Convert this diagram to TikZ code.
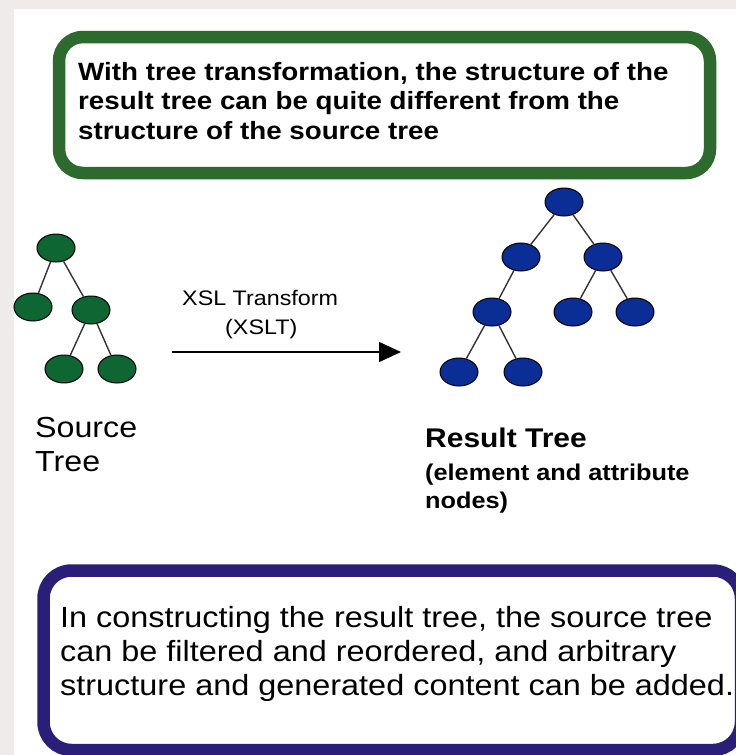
\documentclass[tikz,border=0pt]{standalone}
\usepackage{fontspec}
\setmainfont{Liberation Sans}[FakeStretch=1.11]
\usetikzlibrary{arrows.meta,shapes.geometric}
\definecolor{bgstrip}{HTML}{EFEBEA}
\definecolor{boxgreen}{HTML}{2D6A2D}
\definecolor{boxnavy}{HTML}{2A1E78}
\definecolor{treegreen}{HTML}{0E6633}
\definecolor{treeblue}{HTML}{0A2E96}
\definecolor{edgegray}{HTML}{333333}
\begin{document}
\begin{tikzpicture}[x=1pt,y=-1pt,
  tnode/.style={ellipse,draw=black,line width=1pt,minimum width=38pt,minimum height=28pt,inner sep=0pt},
  gnode/.style={tnode,fill=treegreen},
  bnode/.style={tnode,fill=treeblue},
  edge/.style={draw=edgegray,line width=1.4pt},
  txt/.style={anchor=base west,inner sep=0pt,text=black},
  topfont/.style={font=\fontsize{25}{29}\selectfont\bfseries},
  botfont/.style={font=\fontsize{29.2}{34}\selectfont},
  frame/.style={line width=12.5pt,rounded corners=24pt}]
\useasboundingbox (0,0) rectangle (736,755);
\clip (0,0) rectangle (736,755);
\fill[bgstrip] (0,0) rectangle (736,755);
\fill[white] (14,9) rectangle (736,755);
% top box
\draw[frame,draw=boxgreen,fill=white] (59,37) rectangle (710,173);
\node[txt,topfont] (t1) at (78,80) {With tree transformation, the structure of the};
\node[txt,topfont] (t2) at (78,109) {result tree can be quite different from the};
\node[txt,topfont] (t3) at (78,139) {structure of the source tree};
% bottom box
\draw[frame,draw=boxnavy,fill=white,rounded corners=28pt] (43.5,570.5) rectangle (741,750);
\node[txt,botfont] (b1) at (60,627) {In constructing the result tree, the source tree};
\node[txt,botfont] (b2) at (60,661) {can be filtered and reordered, and arbitrary};
\node[txt,botfont] (b3) at (60,695) {structure and generated content can be added.};
% source tree
\node[gnode] (s0) at (56,248) {};
\node[gnode] (s1) at (33,307) {};
\node[gnode] (s2) at (91,310) {};
\node[gnode] (s3) at (64,369) {};
\node[gnode] (s4) at (117,369) {};
\draw[edge] (s0) -- (s1);
\draw[edge] (s0) -- (s2);
\draw[edge] (s2) -- (s3);
\draw[edge] (s2) -- (s4);
\node[txt,font=\fontsize{29}{34}\selectfont] (sl1) at (35,437) {Source};
\node[txt,font=\fontsize{29}{34}\selectfont] (sl2) at (35,471) {Tree};
% arrow
\coordinate (a1) at (172,352);
\coordinate (a2) at (401,352);
\draw[line width=1.3pt,-{Triangle[length=22pt,width=20pt]}] (a1) -- (a2);
\node[txt,font=\fontsize{21}{25}\selectfont] (x1) at (182,305) {XSL Transform};
\node[txt,font=\fontsize{21}{25}\selectfont] (x2) at (225,334) {(XSLT)};
% result tree
\node[bnode] (r0) at (564,202) {};
\node[bnode] (r1) at (521,257) {};
\node[bnode] (r2) at (603,257) {};
\node[bnode] (r3) at (492,312) {};
\node[bnode] (r4) at (573,312) {};
\node[bnode] (r5) at (635,312) {};
\node[bnode] (r6) at (459,372) {};
\node[bnode] (r7) at (523,372) {};
\draw[edge] (r0) -- (r1);
\draw[edge] (r0) -- (r2);
\draw[edge] (r1) -- (r3);
\draw[edge] (r2) -- (r4);
\draw[edge] (r2) -- (r5);
\draw[edge] (r3) -- (r6);
\draw[edge] (r3) -- (r7);
\node[txt,font=\fontsize{27}{32}\selectfont\bfseries] (rl) at (425,447) {Result Tree};
\node[txt,font=\fontsize{22.8}{28}\selectfont\bfseries] (rs1) at (425,480) {(element and attribute};
\node[txt,font=\fontsize{22.8}{28}\selectfont\bfseries] (rs2) at (425,508) {nodes)};
\end{tikzpicture}
\end{document}
